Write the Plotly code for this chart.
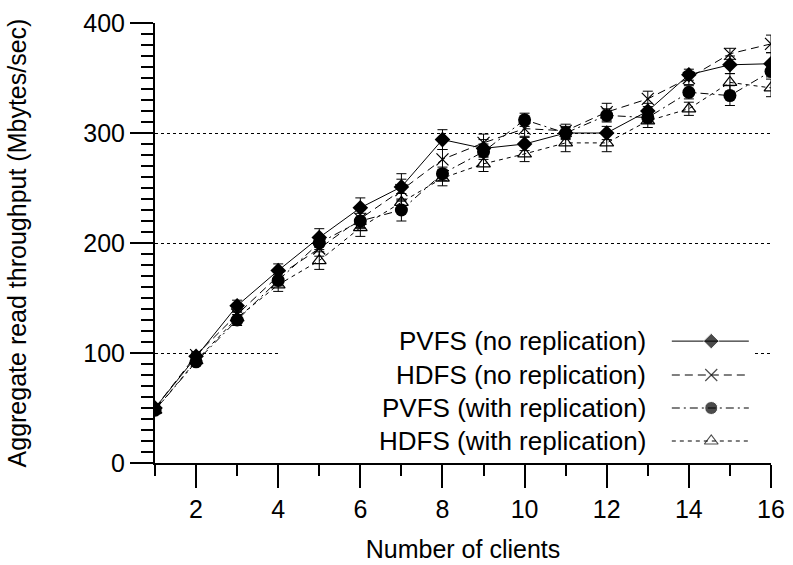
import plotly.graph_objects as go

clients = list(range(1, 17))

pvfs_norep = [50, 97, 143, 175, 205, 232, 251, 294, 286, 290, 300, 300, 320, 353, 362, 363]
hdfs_norep = [50, 98, 135, 170, 195, 222, 248, 276, 291, 304, 302, 319, 331, 350, 372, 381]
pvfs_rep = [48, 92, 130, 166, 200, 220, 230, 263, 283, 312, 300, 316, 314, 337, 334, 356]
hdfs_rep = [48, 93, 132, 162, 184, 214, 237, 259, 272, 281, 291, 291, 311, 322, 346, 341]

pvfs_norep_err = [3, 3, 5, 6, 8, 9, 12, 9, 8, 6, 5, 6, 7, 5, 8, 10]
hdfs_norep_err = [3, 3, 5, 6, 7, 8, 10, 9, 8, 7, 6, 8, 7, 6, 5, 8]
pvfs_rep_err = [3, 3, 5, 5, 6, 7, 10, 6, 7, 6, 6, 6, 5, 6, 9, 5]
hdfs_rep_err = [3, 3, 5, 6, 8, 8, 8, 7, 7, 7, 8, 8, 6, 6, 8, 8]

names = ["PVFS (no replication)", "HDFS (no replication)",
         "PVFS (with replication)", "HDFS (with replication)"]
series = [pvfs_norep, hdfs_norep, pvfs_rep, hdfs_rep]
errors = [pvfs_norep_err, hdfs_norep_err, pvfs_rep_err, hdfs_rep_err]
dashes = ["solid", "8px,5px", "8px,4px,2px,4px", "4px,4px"]
markers = [
    dict(symbol="diamond", size=12, color="black"),
    dict(symbol="x-thin-open", size=12, color="black", line=dict(color="black", width=1.2)),
    dict(symbol="circle", size=13, color="black"),
    dict(symbol="triangle-up-open", size=12, color="black", line=dict(color="black", width=1.2)),
]

FONT = "Liberation Sans, Arial, sans-serif"
FS = 25
LEGEND_FS = 26

fig = go.Figure()
for name, ys, err, dash, mk in zip(names, series, errors, dashes, markers):
    fig.add_trace(go.Scatter(
        x=clients, y=ys, mode="lines+markers", name=name,
        line=dict(color="black", width=1, dash=dash),
        marker=mk,
        error_y=dict(type="data", array=err, visible=True, color="black",
                     thickness=1, width=5),
        showlegend=False,
    ))

# White area behind the legend (interrupts the grid line), on an overlay [0,1] axis
fig.add_trace(go.Scatter(
    x=[0.2, 0.974, 0.974, 0.2, 0.2], y=[0.02, 0.02, 0.3, 0.3, 0.02],
    mode="lines", fill="toself", fillcolor="white", line=dict(width=0, color="white"),
    xaxis="x2", yaxis="y2", showlegend=False, hoverinfo="skip",
))

# Custom legend (text on left, sample on right)
legend_rows = [0.277, 0.2, 0.125, 0.05]
sample_x = [0.839, 0.903, 0.964]
for name, dash, mk, ry in zip(names, dashes, markers, legend_rows):
    mk2 = dict(mk)
    mk2["size"] = [0, mk["size"], 0]
    fig.add_trace(go.Scatter(
        x=sample_x, y=[ry] * 3, mode="lines+markers",
        line=dict(color="black", width=1, dash=dash),
        marker=mk2,
        xaxis="x2", yaxis="y2", showlegend=False, hoverinfo="skip",
    ))
    fig.add_annotation(text=name, xref="paper", yref="paper",
                       x=0.8, y=ry, xanchor="right", yanchor="middle",
                       showarrow=False, font=dict(family=FONT, size=LEGEND_FS, color="black"))

fig.update_layout(
    width=793, height=565,
    margin=dict(l=155, r=22, t=23, b=102, autoexpand=False),
    paper_bgcolor="white", plot_bgcolor="white",
    font=dict(family=FONT, size=FS, color="black"),
    xaxis=dict(
        range=[1, 16], tickvals=list(range(2, 17, 2)), automargin=False,
        ticks="outside", ticklen=23, tickwidth=1.5, tickcolor="black",
        minor=dict(ticks="outside", ticklen=11, dtick=1, tick0=1, tickcolor="black", tickwidth=1.5),
        showline=True, linecolor="black", linewidth=2,
        showgrid=False, zeroline=False,
        title=dict(text="Number of clients", font=dict(size=FS), standoff=18),
        tickfont=dict(size=FS),
    ),
    yaxis=dict(
        range=[0, 400], dtick=100, automargin=False,
        ticks="outside", ticklen=23, tickwidth=1.5, tickcolor="black",
        minor=dict(ticks="outside", ticklen=12, dtick=10, tickcolor="black", tickwidth=1.5, showgrid=False),
        showline=True, linecolor="black", linewidth=2,
        showgrid=True, gridcolor="black", griddash="dot", gridwidth=1,
        zeroline=False,
        title=dict(text="Aggregate read throughput (Mbytes/sec)", font=dict(size=FS), standoff=50),
        tickfont=dict(size=FS),
    ),
    xaxis2=dict(overlaying="x", range=[0, 1], visible=False, automargin=False),
    yaxis2=dict(overlaying="y", range=[0, 1], visible=False, automargin=False),
)

fig.write_html("out.html")
